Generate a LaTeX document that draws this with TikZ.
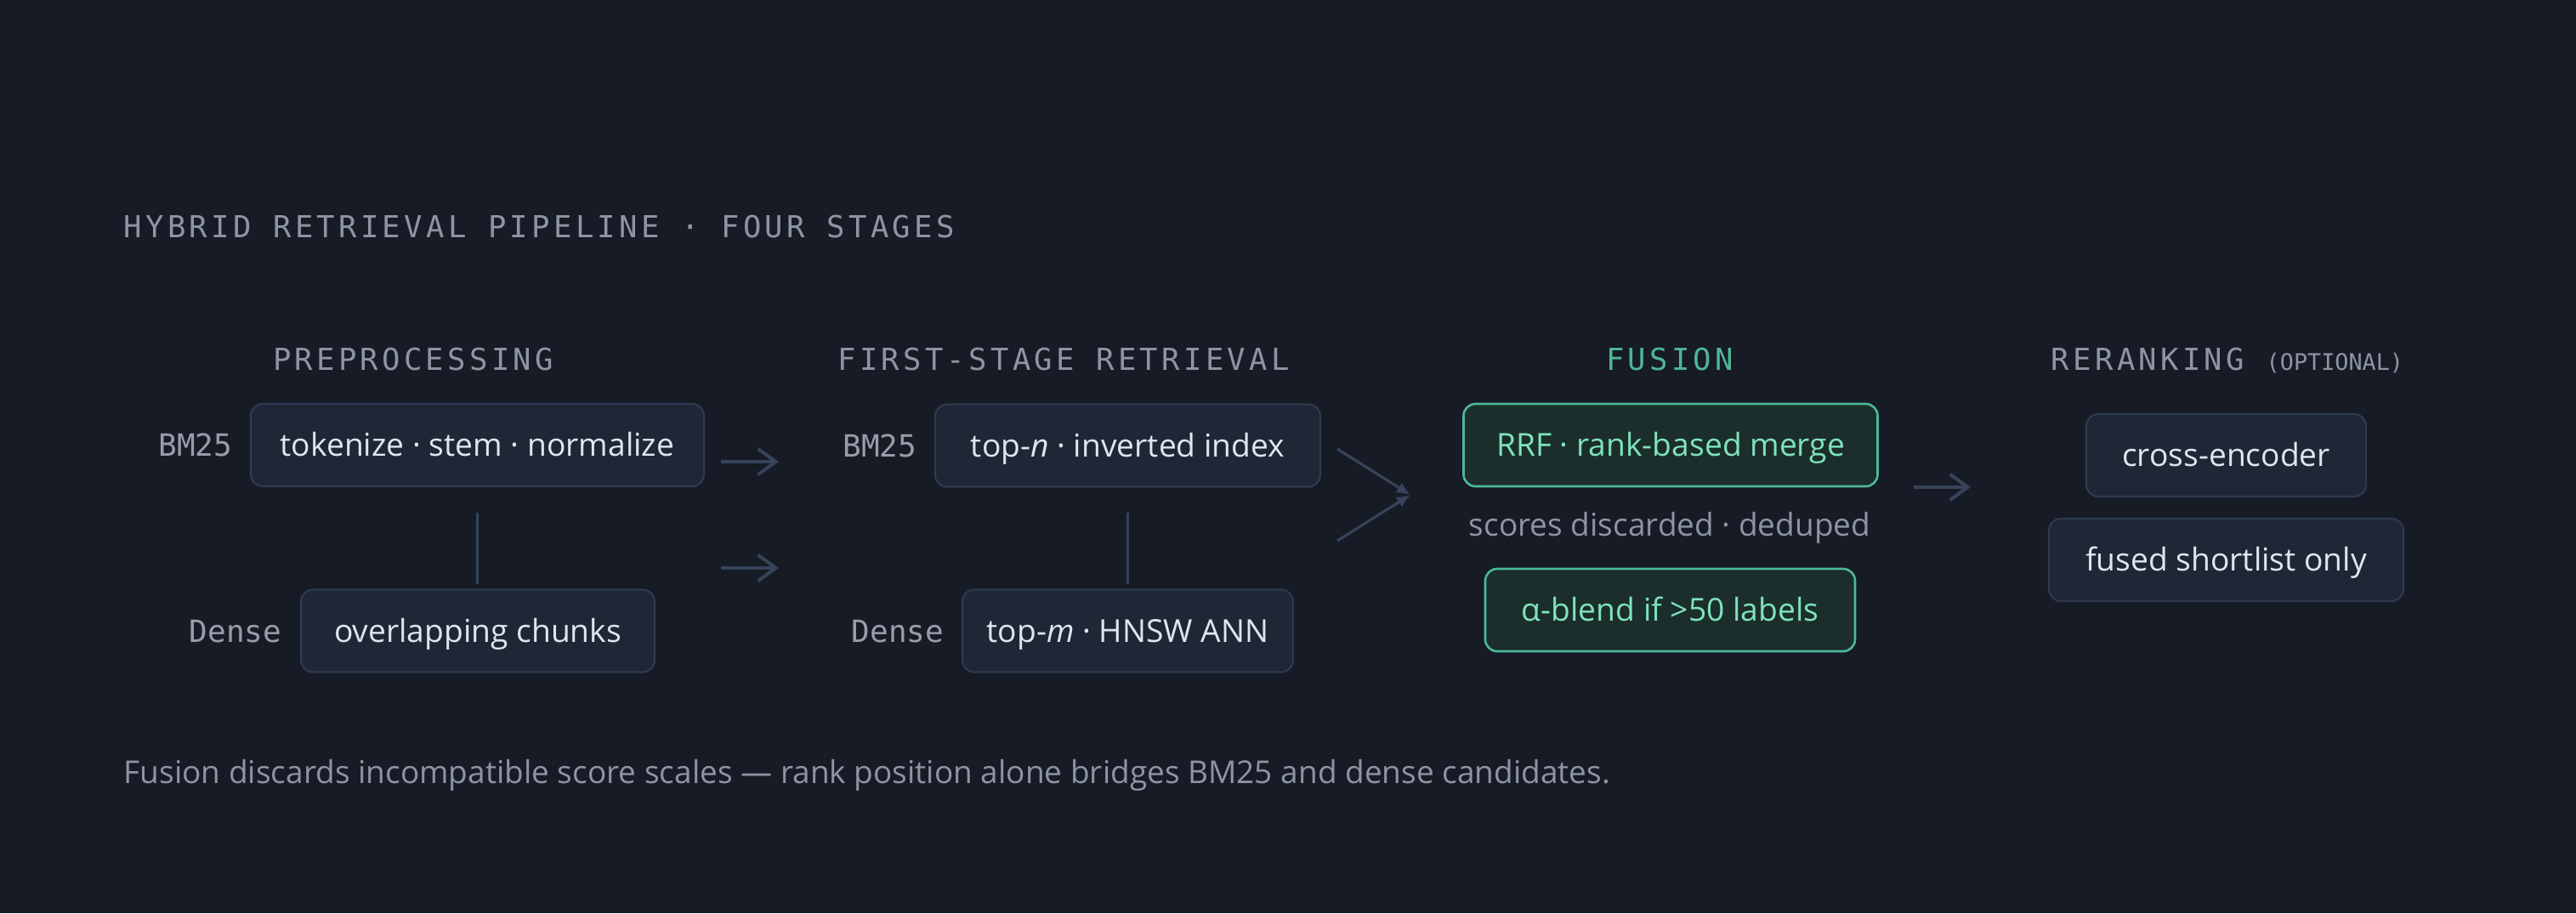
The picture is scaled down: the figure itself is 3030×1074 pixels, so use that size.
\documentclass[tikz,border=0pt]{standalone}
\usepackage{fontspec}
\setmainfont{Open Sans}
\newfontfamily\monofont{DejaVu Sans Mono}
\newfontfamily\hdrfont[LetterSpace=12]{DejaVu Sans Mono}
\usetikzlibrary{arrows.meta,positioning}
\definecolor{bg}{HTML}{161B25}
\definecolor{boxfill}{HTML}{1F2737}
\definecolor{boxline}{HTML}{2E3A4F}
\definecolor{boxtext}{HTML}{E0E6EE}
\definecolor{tealline}{HTML}{4DB89A}
\definecolor{tealfill}{HTML}{1B2E2B}
\definecolor{tealtext}{HTML}{7FE3BD}
\definecolor{tealhdr}{HTML}{4FB594}
\definecolor{hdrgray}{HTML}{8E95A2}
\definecolor{lblgray}{HTML}{989EA9}
\definecolor{conn}{HTML}{36435A}
\newcommand{\boxfnt}{\fontsize{9.3pt}{11pt}\selectfont}
\newcommand{\notefnt}{\fontsize{9.25pt}{11pt}\selectfont}
\newcommand{\lblfnt}{\fontsize{9pt}{11pt}\selectfont\monofont}
\newcommand{\hdrfnt}{\fontsize{8.9pt}{11pt}\selectfont\hdrfont}
\newcommand{\optfnt}{\fontsize{6.7pt}{8pt}\selectfont\monofont}
\tikzset{
  stagebox/.style={draw=boxline, fill=boxfill, line width=0.55pt, rounded corners=3.5pt,
    minimum height=24.25pt, inner sep=0pt, text=boxtext, font=\boxfnt,
    text height=6.64pt, text depth=0pt},
  tealbox/.style={stagebox, draw=tealline, fill=tealfill, text=tealtext, line width=0.65pt},
  lbl/.style={text=lblgray, font=\lblfnt, inner sep=0pt, text height=6.5pt, text depth=0pt},
  hdr/.style={text=hdrgray, font=\hdrfnt, inner sep=0pt, anchor=base},
  note/.style={text=hdrgray, font=\notefnt, inner sep=0pt},
  link/.style={draw=conn, line width=1pt},
  arr/.style={link, -{Straight Barb[length=5.25pt,width=7.6pt,line width=1pt]}},
  conv/.style={link, line width=0.8pt, -{Latex[length=4pt,width=3.6pt]}}
}
\begin{document}
\begin{tikzpicture}[x=0.25pt,y=-0.25pt]
\fill[bg] (0,0) rectangle (3030,1074);
\useasboundingbox (0,0) rectangle (3030,1074);

% title
\node[hdr, anchor=base west] (title) at (145,279) {HYBRID RETRIEVAL PIPELINE · FOUR STAGES};

% stage headers
\node[hdr] (h1) at (486,435) {PREPROCESSING};
\node[hdr] (h2) at (1251,435) {FIRST-STAGE RETRIEVAL};
\node[hdr, text=tealhdr] (h3) at (1964,435) {FUSION};
\node[hdr] (h4) at (2620,435) {RERANKING {\optfnt(OPTIONAL)}};

% preprocessing
\node[stagebox, minimum width=133.25pt] (tok) at (561.5,523.5) {tokenize · stem · normalize};
\node[stagebox, minimum width=104pt] (chunks) at (562,742) {overlapping chunks};
\node[lbl, left=5pt of tok] (l1) {BM25};
\node[lbl, left=5.25pt of chunks] (l2) {Dense};
\coordinate (v1a) at (561.5,603);
\coordinate (v1b) at (561.5,687);
\draw[link, line width=0.55pt] (v1a) -- (v1b);

% arrows to retrieval
\coordinate (a1s) at (848,543);
\coordinate (a1e) at (916,543);
\coordinate (a2s) at (848,668);
\coordinate (a2e) at (916,668);
\draw[arr] (a1s) -- (a1e);
\draw[arr] (a2s) -- (a2e);

% retrieval
\node[stagebox, minimum width=113.25pt] (topn) at (1326.5,524) {top-\textit{n} · inverted index};
\node[stagebox, minimum width=97.25pt] (topm) at (1326.5,742) {top-\textit{m} · HNSW ANN};
\node[lbl, left=5pt of topn] (l3) {BM25};
\node[lbl, left=5pt of topm] (l4) {Dense};
\coordinate (v2a) at (1326.5,603);
\coordinate (v2b) at (1326.5,687);
\draw[link, line width=0.55pt] (v2a) -- (v2b);

% convergence
\coordinate (c1) at (1573,528);
\coordinate (c2) at (1573,636);
\coordinate (ctip) at (1659,582);
\draw[conv] (c1) -- (ctip);
\draw[conv] (c2) -- (ctip);

% fusion
\node[tealbox, minimum width=121.75pt] (rrf) at (1965,523.5) {RRF · rank-based merge};
\node[note, anchor=base] (disc) at (1964,630) {scores discarded · deduped};
\node[tealbox, minimum width=108.75pt] (blend) at (1964.5,717.5) {α-blend if >50 labels};

% arrow to reranking
\coordinate (a3s) at (2251,573);
\coordinate (a3e) at (2318,573);
\draw[arr] (a3s) -- (a3e);

% reranking
\node[stagebox, minimum width=82.25pt] (cross) at (2618.5,535.5) {cross-encoder};
\node[stagebox, minimum width=104.25pt] (fused) at (2618.5,658.5) {fused shortlist only};

% footer
\node[note, anchor=base west] (foot) at (145,921) {Fusion discards incompatible score scales — rank position alone bridges BM25 and dense candidates.};
\end{tikzpicture}
\end{document}
